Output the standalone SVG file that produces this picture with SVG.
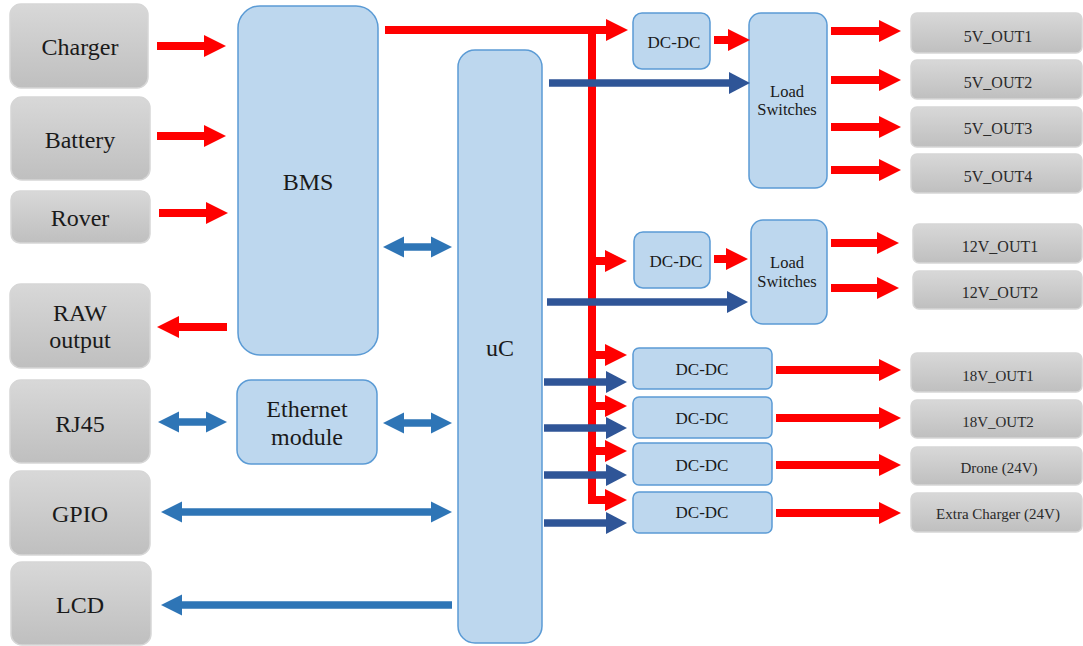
<svg xmlns="http://www.w3.org/2000/svg" width="1083" height="646" viewBox="0 0 1083 646">
<style>
  .gray{fill:url(#gg);stroke:#d6d6d6;stroke-width:1.5}
  .blue{fill:#bdd7ee;stroke:#5b9bd5;stroke-width:1.5}
  text{font-family:'Liberation Serif','DejaVu Serif',serif;fill:#1a1a1a;text-anchor:middle}
  .big{font-size:24px}
  .mid{font-size:17px}
  .ls{font-size:16.5px}
  .out{font-size:16px;fill:#2a2a2a}
  .out2{font-size:15px;fill:#2a2a2a}
  .red{stroke:#ff0000;stroke-width:8;fill:none}
  .lb{stroke:#2e75b6;stroke-width:7.5;fill:none}
  .db{stroke:#2f5597;stroke-width:7.5;fill:none}
</style>
<defs>
  <linearGradient id="gg" x1="0" y1="0" x2="0" y2="1">
    <stop offset="0" stop-color="#d8d8d8"/>
    <stop offset="1" stop-color="#bfbfbf"/>
  </linearGradient>
  <marker id="hr" markerUnits="userSpaceOnUse" markerWidth="23" markerHeight="24" viewBox="0 0 23 24" refX="0" refY="12" orient="auto-start-reverse">
    <path d="M0,1 L22,12 L0,23 z" fill="#ff0000"/>
  </marker>
  <marker id="hl" markerUnits="userSpaceOnUse" markerWidth="22" markerHeight="24" viewBox="0 0 22 24" refX="0" refY="12" orient="auto-start-reverse">
    <path d="M0,1.5 L21,12 L0,22.5 z" fill="#2e75b6"/>
  </marker>
  <marker id="hd" markerUnits="userSpaceOnUse" markerWidth="22" markerHeight="24" viewBox="0 0 22 24" refX="0" refY="12" orient="auto-start-reverse">
    <path d="M0,1 L21,12 L0,23 z" fill="#2f5597"/>
  </marker>
</defs>
<rect width="1083" height="646" fill="#ffffff"/>

<g id="charger"><rect class="gray" x="10" y="4" width="138" height="84" rx="11"/><text class="big" x="80" y="55">Charger</text></g>
<g id="battery"><rect class="gray" x="11" y="97" width="139" height="83" rx="11"/><text class="big" x="80" y="148">Battery</text></g>
<g id="rover"><rect class="gray" x="11" y="191" width="139" height="52" rx="9"/><text class="big" x="80" y="226">Rover</text></g>
<g id="raw"><rect class="gray" x="10" y="284" width="140" height="84" rx="11"/><text class="big" x="80" y="321">RAW</text><text class="big" x="80" y="348">output</text></g>
<g id="rj45"><rect class="gray" x="10" y="380" width="140" height="83" rx="11"/><text class="big" x="80" y="432">RJ45</text></g>
<g id="gpio"><rect class="gray" x="10" y="471" width="140" height="84" rx="11"/><text class="big" x="80" y="522">GPIO</text></g>
<g id="lcd"><rect class="gray" x="11" y="562" width="140" height="83" rx="11"/><text class="big" x="80" y="613">LCD</text></g>

<g id="bms"><rect class="blue" x="238" y="6" width="140" height="349" rx="22"/><text class="big" x="308" y="190">BMS</text></g>
<g id="ethernet"><rect class="blue" x="237" y="380" width="140" height="84" rx="14"/><text class="big" x="307" y="417">Ethernet</text><text class="big" x="307" y="445">module</text></g>
<g id="uc"><rect class="blue" x="458" y="50" width="84" height="593" rx="17"/><text class="big" x="500" y="356">uC</text></g>

<g id="dcdc5"><rect class="blue" x="633" y="13" width="77" height="56" rx="9"/><text class="mid" x="674" y="48">DC-DC</text></g>
<g id="ls5"><rect class="blue" x="749" y="13" width="78" height="175" rx="12"/><text class="ls" x="787" y="97">Load</text><text class="ls" x="787" y="115">Switches</text></g>
<g id="dcdc12"><rect class="blue" x="634" y="232" width="76" height="56" rx="9"/><text class="mid" x="676" y="267">DC-DC</text></g>
<g id="ls12"><rect class="blue" x="751" y="220" width="76" height="104" rx="12"/><text class="ls" x="787" y="268">Load</text><text class="ls" x="787" y="287">Switches</text></g>
<g id="dcdc18a"><rect class="blue" x="633" y="348" width="139" height="41" rx="6"/><text class="mid" x="702" y="375">DC-DC</text></g>
<g id="dcdc18b"><rect class="blue" x="633" y="397" width="139" height="41" rx="6"/><text class="mid" x="702" y="424">DC-DC</text></g>
<g id="dcdc24a"><rect class="blue" x="633" y="443" width="139" height="42" rx="6"/><text class="mid" x="702" y="471">DC-DC</text></g>
<g id="dcdc24b"><rect class="blue" x="633" y="492" width="139" height="41" rx="6"/><text class="mid" x="702" y="518">DC-DC</text></g>

<g id="o5v1"><rect class="gray" x="911" y="13" width="171" height="40" rx="6"/><text class="out" x="998" y="42">5V_OUT1</text></g>
<g id="o5v2"><rect class="gray" x="911" y="60" width="171" height="39" rx="6"/><text class="out" x="998" y="88">5V_OUT2</text></g>
<g id="o5v3"><rect class="gray" x="911" y="107" width="171" height="40" rx="6"/><text class="out" x="998" y="134">5V_OUT3</text></g>
<g id="o5v4"><rect class="gray" x="911" y="154" width="171" height="39" rx="6"/><text class="out" x="998" y="182">5V_OUT4</text></g>
<g id="o12v1"><rect class="gray" x="913" y="224" width="169" height="39" rx="6"/><text class="out" x="1000" y="252">12V_OUT1</text></g>
<g id="o12v2"><rect class="gray" x="913" y="271" width="169" height="38" rx="6"/><text class="out" x="1000" y="298">12V_OUT2</text></g>
<g id="o18v1"><rect class="gray" x="911" y="353" width="171" height="39" rx="6"/><text class="out2" x="998" y="381">18V_OUT1</text></g>
<g id="o18v2"><rect class="gray" x="911" y="400" width="171" height="38" rx="6"/><text class="out2" x="998" y="427">18V_OUT2</text></g>
<g id="drone"><rect class="gray" x="911" y="447" width="171" height="38" rx="6"/><text class="out2" x="999" y="473">Drone (24V)</text></g>
<g id="extra"><rect class="gray" x="911" y="493" width="171" height="39" rx="6"/><text class="out2" x="998" y="519">Extra Charger (24V)</text></g>

<g id="connectors">
  <line class="red" x1="157" y1="46" x2="204" y2="46" marker-end="url(#hr)"/>
  <line class="red" x1="157" y1="136" x2="204" y2="136" marker-end="url(#hr)"/>
  <line class="red" x1="159" y1="213" x2="206" y2="213" marker-end="url(#hr)"/>
  <line class="red" x1="227" y1="327" x2="179" y2="327" marker-end="url(#hr)"/>
  <path class="red" d="M385,30 H606"  marker-end="url(#hr)"/>
  <path class="red" d="M592,30 V504"/>
  <line class="red" x1="592" y1="261" x2="605" y2="261" marker-end="url(#hr)"/>
  <line class="red" x1="592" y1="355" x2="605" y2="355" marker-end="url(#hr)"/>
  <line class="red" x1="592" y1="406" x2="605" y2="406" marker-end="url(#hr)"/>
  <line class="red" x1="592" y1="451" x2="605" y2="451" marker-end="url(#hr)"/>
  <line class="red" x1="588" y1="500" x2="605" y2="500" marker-end="url(#hr)"/>
  <line class="red" x1="714" y1="40" x2="728" y2="40" marker-end="url(#hr)"/>
  <line class="red" x1="714" y1="259" x2="726" y2="259" marker-end="url(#hr)"/>
  <line class="red" x1="831" y1="31" x2="879" y2="31" marker-end="url(#hr)"/>
  <line class="red" x1="831" y1="80" x2="879" y2="80" marker-end="url(#hr)"/>
  <line class="red" x1="831" y1="127" x2="879" y2="127" marker-end="url(#hr)"/>
  <line class="red" x1="831" y1="170" x2="879" y2="170" marker-end="url(#hr)"/>
  <line class="red" x1="831" y1="243" x2="877" y2="243" marker-end="url(#hr)"/>
  <line class="red" x1="831" y1="288" x2="877" y2="288" marker-end="url(#hr)"/>
  <line class="red" x1="776" y1="370" x2="879" y2="370" marker-end="url(#hr)"/>
  <line class="red" x1="776" y1="418" x2="879" y2="418" marker-end="url(#hr)"/>
  <line class="red" x1="776" y1="465" x2="879" y2="465" marker-end="url(#hr)"/>
  <line class="red" x1="776" y1="513" x2="879" y2="513" marker-end="url(#hr)"/>

  <line class="db" x1="549" y1="83" x2="729" y2="83" marker-end="url(#hd)"/>
  <line class="db" x1="547" y1="302" x2="727" y2="302" marker-end="url(#hd)"/>
  <line class="db" x1="544" y1="382" x2="606" y2="382" marker-end="url(#hd)"/>
  <line class="db" x1="544" y1="428" x2="606" y2="428" marker-end="url(#hd)"/>
  <line class="db" x1="544" y1="475" x2="606" y2="475" marker-end="url(#hd)"/>
  <line class="db" x1="544" y1="523" x2="606" y2="523" marker-end="url(#hd)"/>

  <line class="lb" x1="404" y1="247" x2="431" y2="247" marker-start="url(#hl)" marker-end="url(#hl)"/>
  <line class="lb" x1="179" y1="422" x2="206" y2="422" marker-start="url(#hl)" marker-end="url(#hl)"/>
  <line class="lb" x1="404" y1="423" x2="431" y2="423" marker-start="url(#hl)" marker-end="url(#hl)"/>
  <line class="lb" x1="182" y1="512" x2="431" y2="512" marker-start="url(#hl)" marker-end="url(#hl)"/>
  <line class="lb" x1="452" y1="605" x2="182" y2="605" marker-end="url(#hl)"/>
</g>
</svg>
